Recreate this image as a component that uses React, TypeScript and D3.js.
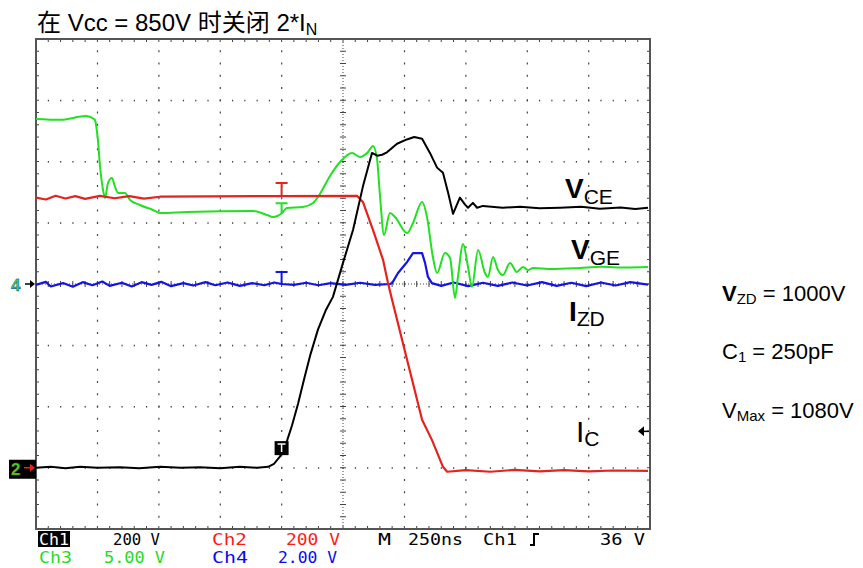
import React from 'react';
import * as d3 from 'd3';

// Scope settings
const TIME_PER_DIV_NS = 250;
const H_DIVS = 10;
const V_DIVS = 8;
const MINOR = 5;

// Volts per division and ground position (in divisions from centre) per channel
const CH_NAMES = ['Ch1', 'Ch2', 'Ch3', 'Ch4'];
const CH_VOLTS_PER_DIV = [200, 200, 5, 2];
const CH_GROUND_DIV = [-3, -3, 0, 0];
const CH_SCALE_LABELS = ['200 V', '200 V', '5.00 V', '2.00 V'];
const TIMEBASE_LABEL = 'M 250ns';
const TRIGGER_LABEL = '36 V';
const TRIGGER_LEVEL_V = 36 * 3.3;
const TRIGGER_T_NS = 1000;

// Ch1: collector-emitter voltage V_CE  [time ns, volts]
const vce: [number, number][] = [
  [0, 0], [60, 3], [120, -2], [179, 3], [250, 0], [342, 2], [420, -2], [505, 3],
  [590, 0], [668, 2], [750, -2], [830, 3], [900, 0], [945, 3], [969, 13], [993, 36],
  [1018, 78], [1042, 137], [1067, 209], [1091, 287], [1116, 366], [1148, 451],
  [1181, 516], [1209, 558], [1250, 669], [1291, 777], [1331, 918], [1368, 1028],
  [1389, 1019], [1409, 1022], [1429, 1030], [1470, 1058], [1510, 1072], [1540, 1080],
  [1572, 1074], [1604, 1028], [1633, 980], [1657, 963], [1678, 898], [1698, 829],
  [1710, 852], [1726, 882], [1747, 859], [1759, 849], [1779, 865], [1796, 849],
  [1820, 855], [1900, 849], [1971, 852], [2050, 847], [2134, 849], [2220, 852],
  [2296, 846], [2380, 850], [2440, 845], [2492, 849],
];

// Ch2: collector current I_C (shown on 200 V/div)
const ic: [number, number][] = [
  [0, 882], [40, 876], [80, 888], [120, 879], [160, 887], [200, 878], [260, 888],
  [320, 880], [380, 887], [440, 879], [505, 885], [700, 886], [1000, 887],
  [1307, 888], [1331, 868], [1372, 777], [1413, 679], [1433, 604], [1450, 548],
  [1572, 157], [1612, 91], [1657, 3], [1674, -13], [1750, -8], [1850, -13],
  [1950, -7], [2050, -12], [2150, -8], [2250, -12], [2350, -9], [2492, -10],
];

// Ch3: gate-emitter voltage V_GE
const vge: [number, number][] = [
  [0, 13.47], [98, 13.4], [204, 13.71], [236, 13.47], [240, 13.39], [252, 11.76],
  [261, 9.55], [273, 7.67], [281, 7.02], [293, 8.24], [309, 8.65], [322, 7.92],
  [334, 7.43], [362, 7.43], [383, 6.86], [423, 6.45], [476, 6.04], [505, 5.8],
  [615, 5.88], [884, 5.96], [941, 5.63], [965, 5.47], [1002, 5.8], [1022, 6.2],
  [1087, 6.29], [1128, 6.61], [1156, 7.35], [1197, 8.82], [1238, 9.96], [1287, 10.69],
  [1319, 10.37], [1352, 10.78], [1372, 11.27], [1388, 10.29], [1401, 7.1], [1417, 4.0],
  [1441, 5.8], [1462, 5.47], [1511, 4.16], [1535, 4.98], [1572, 6.69], [1592, 5.47],
  [1616, 2.2], [1633, 0.9], [1665, 2.53], [1686, 2.12], [1706, -1.14], [1718, 0.57],
  [1739, 3.27], [1759, 1.39], [1775, -0.24], [1800, 2.78], [1828, 0.9], [1840, 0.57],
  [1861, 2.2], [1881, 1.14], [1901, 0.73], [1930, 1.71], [1958, 0.98], [1983, 1.39],
  [2003, 1.14], [2024, 1.31], [2100, 1.22], [2215, 1.31], [2300, 1.4], [2400, 1.35],
  [2492, 1.39],
];

// Ch4: zener current I_ZD
const izd: [number, number][] = [
  [0, -0.03], [40, 0.07], [60, -0.08], [110, 0.03], [150, -0.09], [190, 0.06],
  [230, -0.04], [270, 0.08], [300, -0.06], [350, 0.04], [390, -0.08], [430, 0.06],
  [470, -0.03], [510, 0.07], [550, -0.07], [600, 0.03], [640, -0.05], [690, 0.06],
  [730, -0.04], [780, 0.05], [830, -0.06], [880, 0.03], [930, -0.04], [970, 0.05],
  [1000, 0.0], [1050, -0.03], [1100, 0.04], [1150, -0.04], [1200, 0.03],
  [1260, -0.03], [1320, 0.04], [1380, -0.03], [1441, 0.0], [1450, 0.03],
  [1474, 0.36], [1511, 0.72], [1535, 1.01], [1572, 1.01], [1584, 0.69],
  [1596, 0.23], [1612, 0.03], [1650, -0.06], [1700, 0.05], [1760, -0.07],
  [1820, 0.04], [1880, -0.06], [1940, 0.05], [2000, -0.05], [2060, 0.06],
  [2120, -0.06], [2180, 0.04], [2240, -0.07], [2300, 0.05], [2360, -0.05],
  [2420, 0.06], [2492, -0.02],
];

const SERIES = [vce, ic, vge, izd];
const COLORS = ['#000000', '#e4231f', '#22e022', '#1414e6'];
const TEXT_COLORS = ['#000000', '#ff1a1a', '#1fdc1f', '#0a0af0'];

// Plot frame
const W = 863;
const H = 568;
const PL = 36;
const PR = 650;
const PT = 39;
const PB = 529;

const SANS = "'Liberation Sans', Arial, Helvetica, 'Noto Sans CJK SC', sans-serif";
const MONO = "'DejaVu Sans Mono', 'Liberation Mono', monospace";

function valueAt(data: [number, number][], t: number) {
  const i = d3.bisector((d: [number, number]) => d[0]).left(data, t);
  if (i <= 0) return data[0][1];
  if (i >= data.length) return data[data.length - 1][1];
  const [t0, v0] = data[i - 1];
  const [t1, v1] = data[i];
  return v0 + ((v1 - v0) * (t - t0)) / (t1 - t0);
}

export default function App() {
  const x = d3.scaleLinear().domain([0, H_DIVS * TIME_PER_DIV_NS]).range([PL, PR]);
  const xDiv = d3.scaleLinear().domain([0, H_DIVS]).range([PL, PR]);
  const yDiv = d3.scaleLinear().domain([-V_DIVS / 2, V_DIVS / 2]).range([PB, PT]);
  const chY = (ch: number, v: number) => yDiv(v / CH_VOLTS_PER_DIV[ch] + CH_GROUND_DIV[ch]);

  const lineFor = (ch: number, curve: d3.CurveFactory = d3.curveLinear) =>
    d3
      .line<[number, number]>()
      .x((d) => x(d[0]))
      .y((d) => chY(ch, d[1]))
      .curve(curve)(SERIES[ch]) || '';

  // grid
  const grid: React.ReactNode[] = [];
  const gridColor = '#444';
  for (let k = 1; k < H_DIVS; k++) {
    if (k === H_DIVS / 2) continue;
    const gx = xDiv(k);
    for (let j = 1; j < V_DIVS * MINOR; j++) {
      const gy = yDiv(-V_DIVS / 2 + j / MINOR);
      grid.push(<rect key={`v${k}-${j}`} x={gx - 0.5} y={gy - 1} width={1.2} height={2} fill={gridColor} />);
    }
  }
  for (let k = 1; k < V_DIVS; k++) {
    if (k === V_DIVS / 2) continue;
    const gy = yDiv(-V_DIVS / 2 + k);
    for (let j = 1; j < H_DIVS * MINOR; j++) {
      const gx = xDiv(j / MINOR);
      grid.push(<rect key={`h${k}-${j}`} x={gx - 0.5} y={gy - 0.5} width={1.2} height={1.6} fill={gridColor} />);
    }
  }
  // centre cross with minor ticks
  const cx = xDiv(H_DIVS / 2);
  const cy = yDiv(0);
  grid.push(
    <line key="cxl" x1={cx} x2={cx} y1={PT} y2={PB} stroke={gridColor} strokeWidth={1} strokeDasharray="1,2" />,
    <line key="cyl" x1={PL} x2={PR} y1={cy} y2={cy} stroke={gridColor} strokeWidth={1} strokeDasharray="1,2" />
  );
  for (let j = 1; j < V_DIVS * MINOR; j++) {
    const gy = yDiv(-V_DIVS / 2 + j / MINOR);
    grid.push(<line key={`ct${j}`} x1={cx - 3} x2={cx + 3} y1={gy} y2={gy} stroke={gridColor} strokeWidth={1} />);
    grid.push(<line key={`lt${j}`} x1={PL} x2={PL + 3} y1={gy} y2={gy} stroke={gridColor} strokeWidth={1} />);
    grid.push(<line key={`rt${j}`} x1={PR - 3} x2={PR} y1={gy} y2={gy} stroke={gridColor} strokeWidth={1} />);
  }
  for (let j = 1; j < H_DIVS * MINOR; j++) {
    const gx = xDiv(j / MINOR);
    grid.push(<line key={`cht${j}`} x1={gx} x2={gx} y1={cy - 3} y2={cy + 3} stroke={gridColor} strokeWidth={1} />);
    grid.push(<line key={`tt${j}`} x1={gx} x2={gx} y1={PT} y2={PT + 3} stroke={gridColor} strokeWidth={1} />);
    grid.push(<line key={`bt${j}`} x1={gx} x2={gx} y1={PB - 3} y2={PB} stroke={gridColor} strokeWidth={1} />);
  }

  // cursor markers at the trigger instant
  const tx = x(TRIGGER_T_NS);
  const cursor = (ch: number, h: number) => {
    const ty = chY(ch, valueAt(SERIES[ch], TRIGGER_T_NS));
    return (
      <path
        key={`cur${ch}`}
        d={`M${tx - 6},${ty - h}H${tx + 6}M${tx},${ty - h}V${ty}`}
        stroke={COLORS[ch]}
        strokeWidth={2}
        fill="none"
      />
    );
  };
  const trigY = chY(0, valueAt(vce, TRIGGER_T_NS));
  const levelY = chY(0, TRIGGER_LEVEL_V);

  const monoText = (
    label: string,
    xs: number,
    y: number,
    fill: string,
    len: number
  ) => (
    <text
      x={xs}
      y={y}
      fill={fill}
      fontFamily={MONO}
      fontSize={16}
      textLength={len}
      lengthAdjust="spacingAndGlyphs"
    >
      {label}
    </text>
  );

  return (
    <svg
      width={W}
      height={H}
      viewBox={`0 0 ${W} ${H}`}
      style={{ position: 'absolute', left: 0, top: 0, background: '#fff' }}
    >
      <rect x={0} y={0} width={W} height={H} fill="#fff" />

      {/* title */}
      <text x={37} y={31} fontFamily={SANS} fontSize={24} fill="#000">
        在 Vcc = 850V 时关闭 2*I
        <tspan fontSize={16} dy={4}>N</tspan>
      </text>

      {/* graticule */}
      <g>{grid}</g>
      <rect x={PL} y={PT} width={PR - PL} height={PB - PT} fill="none" stroke="#555" strokeWidth={2} />

      {/* waveforms */}
      <g fill="none" strokeLinejoin="round" strokeWidth={2}>
        <path d={lineFor(3)} stroke={COLORS[3]} strokeWidth={2.2} />
        <path d={lineFor(2, d3.curveMonotoneX)} stroke={COLORS[2]} />
        <path d={lineFor(1)} stroke={COLORS[1]} strokeWidth={2.2} />
        <path d={lineFor(0)} stroke={COLORS[0]} />
      </g>

      {cursor(1, 13)}
      {cursor(2, 10)}
      {cursor(3, 12)}

      {/* trigger marker on Ch1 */}
      <rect x={tx - 7} y={trigY - 12} width={14} height={14} fill="#000" />
      <path d={`M${tx - 4},${trigY - 9}H${tx + 4}M${tx},${trigY - 9}V${trigY - 1}`} stroke="#fff" strokeWidth={1.5} />

      {/* trigger level arrow */}
      <path d={`M${PR - 12},${levelY}l6,-5v10z`} fill="#000" />
      <line x1={PR - 7} x2={PR - 1} y1={levelY} y2={levelY} stroke="#000" strokeWidth={1.5} />

      {/* channel ground markers */}
      <text x={11} y={chY(3, 0) + 7} fontFamily={SANS} fontWeight="bold" fontSize={17} fill={COLORS[2]} stroke={COLORS[3]} strokeWidth={0.35}>
        4
      </text>
      <line x1={25} x2={31} y1={chY(3, 0)} y2={chY(3, 0)} stroke="#000" strokeWidth={1.5} />
      <path d={`M${35},${chY(3, 0)}l-5,-4v8z`} fill="#000" />

      <rect x={9} y={chY(1, 0) - 8} width={27} height={19} fill="#000" />
      <text x={11} y={chY(1, 0) + 7} fontFamily={SANS} fontWeight="bold" fontSize={17} fill={COLORS[2]} stroke={COLORS[1]} strokeWidth={0.35}>
        2
      </text>
      <line x1={24} x2={30} y1={chY(1, 0)} y2={chY(1, 0)} stroke={COLORS[1]} strokeWidth={1.5} />
      <path d={`M${35},${chY(1, 0)}l-5,-4v8z`} fill={COLORS[1]} />

      {/* trace labels */}
      <text x={565} y={198} fontFamily={SANS} fill="#000">
        <tspan fontSize={28} fontWeight="bold">V</tspan>
        <tspan fontSize={21} dy={6}>CE</tspan>
      </text>
      <text x={571} y={259} fontFamily={SANS} fill="#000">
        <tspan fontSize={28} fontWeight="bold">V</tspan>
        <tspan fontSize={21} dy={6}>GE</tspan>
      </text>
      <text x={569} y={321} fontFamily={SANS} fill="#000">
        <tspan fontSize={28} fontWeight="bold">I</tspan>
        <tspan fontSize={21} dy={5}>ZD</tspan>
      </text>
      <text x={576} y={442} fontFamily={SANS} fill="#000">
        <tspan fontSize={30}>I</tspan>
        <tspan fontSize={21} dy={4}>C</tspan>
      </text>

      {/* circuit parameters */}
      <text x={722} y={301} fontFamily={SANS} fill="#000" fontSize={22}>
        <tspan fontWeight="bold">V</tspan>
        <tspan fontSize={15} dy={3}>ZD</tspan>
        <tspan dy={-3}> = 1000V</tspan>
      </text>
      <text x={722} y={359} fontFamily={SANS} fill="#000" fontSize={22}>
        C<tspan fontSize={15} dy={3}>1</tspan>
        <tspan dy={-3}> = 250pF</tspan>
      </text>
      <text x={722} y={418} fontFamily={SANS} fill="#000" fontSize={22}>
        V<tspan fontSize={15} dy={3}>Max</tspan>
        <tspan dy={-3}> = 1080V</tspan>
      </text>

      {/* status readout */}
      <rect x={38} y={531} width={32} height={16} fill="#000" />
      {monoText(CH_NAMES[0], 39, 545, '#fff', 30)}
      {monoText(CH_SCALE_LABELS[0], 113, 545, TEXT_COLORS[0], 47)}
      {monoText(CH_NAMES[1], 212, 545, TEXT_COLORS[1], 35)}
      {monoText(CH_SCALE_LABELS[1], 286, 545, TEXT_COLORS[1], 54)}
      {monoText(TIMEBASE_LABEL.split(' ')[0], 378, 545, '#000', 13)}
      {monoText(TIMEBASE_LABEL.split(' ')[1], 408, 545, '#000', 55)}
      {monoText(CH_NAMES[0], 483, 545, '#000', 34)}
      <path d="M530,545h4v-11h5" stroke="#000" strokeWidth={2} fill="none" />
      {monoText(TRIGGER_LABEL, 600, 545, '#000', 45)}

      {monoText(CH_NAMES[2], 39, 563, TEXT_COLORS[2], 33)}
      {monoText(CH_SCALE_LABELS[2], 104, 563, TEXT_COLORS[2], 61)}
      {monoText(CH_NAMES[3], 212, 563, TEXT_COLORS[3], 36)}
      {monoText(CH_SCALE_LABELS[3], 278, 563, TEXT_COLORS[3], 59)}
    </svg>
  );
}
